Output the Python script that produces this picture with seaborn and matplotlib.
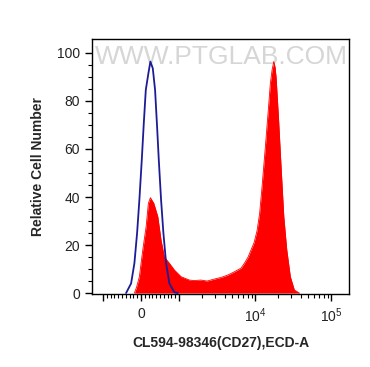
import numpy as np
import pandas as pd
import matplotlib
matplotlib.use("Agg")
import matplotlib.pyplot as plt
import seaborn as sns

# isotype control (blue outline)
ctrl_x = [-395, -263, -176, -105, -45, 18, 71, 124, 192, 245, 308, 368, 421, 466, 526,
          587, 658, 745, 876, 966]
ctrl_y = [0, 4, 12.4, 25, 38.8, 55.4, 70.7, 84.6, 91.5, 96.4, 93.6, 84.6, 69.3, 55.4, 38.8,
          25, 12.4, 4, 0.3, 0]

# CD27 stained sample (red fill)
cd27_x = [-176, -118, -45, 45, 132, 192, 245, 334, 440, 526, 613, 745, 876, 1062, 1368,
          1574, 1945, 2333, 2890, 3573, 4375, 5297, 6546, 7230,
          8090, 8855, 9700, 10620, 11460, 12250, 12940, 13550, 14690, 15890, 16750, 17620,
          18330, 18880, 20280, 21980, 23880, 26120, 29110, 32890, 38280]
cd27_y = [0, 2.5, 6.8, 18, 27.6, 37.4, 39.7, 37.4, 31.8, 22, 15, 12.4, 9.6, 6.8, 5.4,
          5.2, 5.4, 5.0, 5.8, 6.5, 7.5, 8.8, 10.4, 12.4,
          15, 18, 21, 26, 33, 43, 52, 59.6, 73.5, 87.4, 93, 96.4,
          94, 90, 73.5, 52.6, 31.8, 18, 6.8, 1.25, 0]

x_ticks = [-1000, 0, 1000, 10000, 100000]
x_ticklabels = ["", "0", "", "$10^4$", "$10^5$"]
y_ticks = [0, 20, 40, 60, 80, 100]

ctrl = pd.DataFrame({"x": ctrl_x, "y": ctrl_y})
cd27 = pd.DataFrame({"x": cd27_x, "y": cd27_y})

sns.set_style("ticks")
plt.rcParams["font.family"] = ["Liberation Sans", "DejaVu Sans"]
plt.rcParams["mathtext.fontset"] = "custom"
plt.rcParams["mathtext.rm"] = "Liberation Sans"

fig = plt.figure(figsize=(3.7, 3.67), dpi=100)
ax = fig.add_axes([0.2486, 0.1989, 0.6946, 0.6948])

ax.set_xscale("symlog", linthresh=1000, linscale=0.45)

# watermark
ax.text(0.505, 0.93, "WWW.PTGLAB.COM", transform=ax.transAxes, ha="center", va="center",
        fontsize=19, color="#d6d6d6", zorder=0)

ax.fill_between(cd27["x"], cd27["y"], 0, color="#ff0000", lw=0, zorder=2)
sns.lineplot(data=cd27, x="x", y="y", color="#ff0000", lw=0.6, ax=ax, zorder=2)
sns.lineplot(data=ctrl, x="x", y="y", color="#1c1c96", lw=1.3, ax=ax, zorder=3)

ax.set_xlim(-1400, 172000)
ax.set_ylim(-0.4, 105.8)

minor_x = [s * k * 100 for s in (-1, 1) for k in range(1, 10)]
minor_x += [k * 10 ** e for e in (3, 4, 5) for k in range(2, 10)]
ax.set_xticks(x_ticks)
ax.set_xticklabels(x_ticklabels)
ax.set_xticks([m for m in minor_x if m < 172000], minor=True)
ax.set_yticks(y_ticks)
ax.set_yticks(np.arange(0, 105, 5), minor=True)

ax.tick_params(axis="both", which="major", length=5, width=1, colors="black",
               labelcolor="#222222", labelsize=10)
ax.tick_params(axis="both", which="minor", length=3, width=0.8, colors="black")
ax.tick_params(axis="x", which="major", pad=4)

for s in ax.spines.values():
    s.set_linewidth(1)
    s.set_color("black")

ax.set_xlabel("CL594-98346(CD27),ECD-A", fontsize=10, fontweight="bold", labelpad=8)
ax.set_ylabel("Relative Cell Number", fontsize=10, fontweight="bold", labelpad=9)

fig.savefig("out.png", dpi=100)
